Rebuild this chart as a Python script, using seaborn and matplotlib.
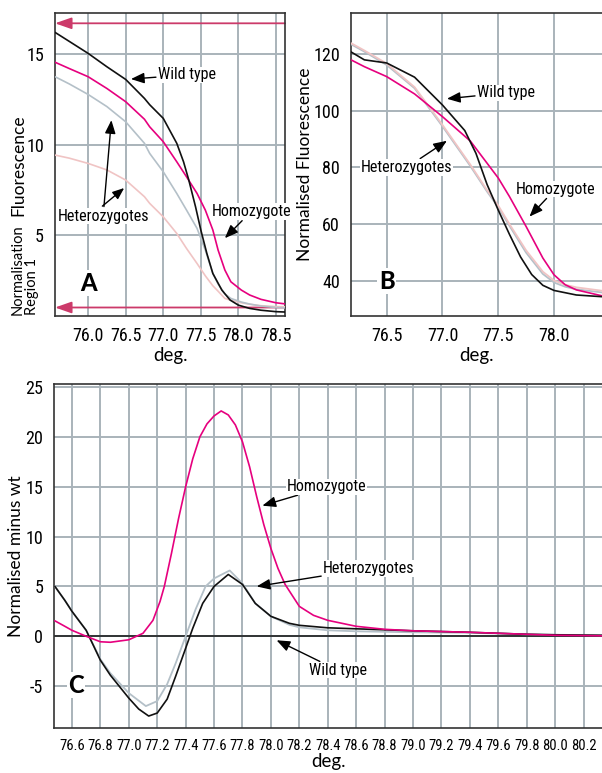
import matplotlib
matplotlib.use("Agg")
import matplotlib.pyplot as plt
import seaborn as sns

# ---- panel A: raw fluorescence ----
a_deg = [75.56, 75.75, 76.0, 76.25, 76.5, 76.75, 76.82, 77.0, 77.18, 77.27, 77.34, 77.43,
         77.5, 77.58, 77.66, 77.78, 77.89, 78.0, 78.15, 78.3, 78.5, 78.62]
a_wild = [16.2, 15.7, 15.04, 14.3, 13.6, 12.55, 12.2, 11.45, 10.07, 9.05, 8.04, 6.56,
          5.28, 3.99, 2.88, 1.96, 1.41, 1.13, 0.95, 0.85, 0.77, 0.75]
a_pdeg = [75.56, 75.75, 76.0, 76.25, 76.5, 76.75, 76.82, 77.0, 77.18, 77.31, 77.45, 77.56,
          77.66, 77.73, 77.82, 77.9, 78.04, 78.15, 78.3, 78.5, 78.62]
a_homo = [14.55, 14.2, 13.75, 13.1, 12.37, 11.4, 10.98, 10.16, 9.05, 8.22, 7.3, 6.38,
          5.28, 4.17, 3.07, 2.42, 1.96, 1.69, 1.45, 1.26, 1.2]
a_het1 = [13.75, 13.35, 12.77, 12.1, 11.26, 10.07, 9.51, 8.5, 7.3, 6.38, 5.37, 4.17,
          2.88, 2.3, 1.75, 1.5, 1.3, 1.19, 1.08, 1.0, 0.98]
a_het2 = [9.42, 9.25, 8.96, 8.6, 8.04, 7.12, 6.75, 6.01, 5.09, 4.26, 3.43, 2.75,
          2.2, 1.9, 1.5, 1.4, 1.26, 1.18, 1.1, 1.05, 1.04]
a_norm = [16.7, 1.0]   # normalisation region markers

# ---- panel B: normalised fluorescence ----
b_deg = [76.18, 76.3, 76.5, 76.75, 77.0, 77.1, 77.2, 77.3, 77.4, 77.5, 77.6, 77.7,
         77.8, 77.9, 78.0, 78.2, 78.43]
b_wild = [120.7, 117.9, 116.8, 111.8, 102.0, 97.5, 93.0, 85.0, 74.0, 65.0, 56.5, 48.5,
          42.3, 38.5, 36.7, 35.1, 34.5]
b_hdeg = [76.18, 76.3, 76.5, 76.75, 77.0, 77.25, 77.4, 77.5, 77.6, 77.75, 77.9, 78.0,
          78.1, 78.2, 78.43]
b_homo = [117.9, 115.5, 112.0, 105.9, 97.9, 89.3, 81.5, 76.3, 69.8, 59.2, 48.1, 42.2,
          38.7, 36.9, 34.8]
b_het1 = [123.4, 120.8, 116.1, 107.9, 94.5, 80.5, 71.5, 66.0, 59.5, 50.0, 42.5, 39.5,
          38.0, 37.1, 36.0]
b_het2 = [123.8, 121.2, 116.6, 108.3, 95.0, 81.0, 72.0, 66.6, 60.1, 50.8, 43.3, 40.2,
          38.7, 37.8, 36.6]

# ---- panel C: difference plot ----
c_deg = [76.48, 76.55, 76.6, 76.7, 76.8, 76.87, 77.0, 77.07, 77.14, 77.2, 77.27, 77.33,
         77.4, 77.45, 77.52, 77.6, 77.7, 77.8, 77.89, 78.0, 78.13, 78.2, 78.4, 78.6,
         78.8, 79.0, 79.4, 79.8, 80.0, 80.33]
c_wild = [5.0, 3.6, 2.5, 0.6, -2.4, -3.9, -6.2, -7.3, -8.0, -7.7, -6.3, -4.0,
          -1.2, 0.8, 3.3, 5.0, 6.2, 5.2, 3.3, 2.0, 1.3, 1.1, 0.85, 0.75,
          0.65, 0.55, 0.4, 0.2, 0.15, 0.1]
c_gdeg = [76.48, 76.55, 76.6, 76.7, 76.8, 76.87, 77.0, 77.12, 77.2, 77.27, 77.33, 77.4,
          77.47, 77.54, 77.6, 77.71, 77.8, 77.89, 78.0, 78.13, 78.2, 78.4, 78.6, 78.8,
          79.0, 79.4, 79.8, 80.0, 80.33]
c_het = [5.0, 3.6, 2.5, 0.6, -2.3, -3.7, -5.7, -7.0, -6.5, -4.8, -2.7, 0.0,
         2.7, 5.0, 5.8, 6.6, 5.3, 3.3, 2.0, 1.15, 0.9, 0.6, 0.5, 0.45,
         0.4, 0.35, 0.2, 0.15, 0.1]
c_hdeg = [76.48, 76.55, 76.6, 76.7, 76.8, 76.87, 77.0, 77.1, 77.17, 77.22, 77.25, 77.3,
          77.35, 77.4, 77.45, 77.5, 77.55, 77.6, 77.65, 77.7, 77.75, 77.8, 77.85, 77.9,
          77.95, 78.0, 78.05, 78.1, 78.2, 78.3, 78.4, 78.6, 78.8, 79.0, 79.4, 79.8,
          80.0, 80.33]
c_homo = [1.55, 1.0, 0.6, 0.0, -0.55, -0.6, -0.35, 0.3, 1.6, 3.5, 5.0, 8.3,
          11.8, 15.0, 17.8, 20.0, 21.3, 22.1, 22.6, 22.2, 21.2, 19.5, 17.0, 14.0,
          11.2, 8.8, 6.8, 5.2, 3.0, 2.1, 1.6, 1.0, 0.7, 0.55, 0.4, 0.2,
          0.1, 0.05]

BLACK = "#111111"
PINK = "#e6007e"
GREY = "#b4c0c8"
LPINK = "#f0c4c4"
GRID = "#a9b3ba"
RED = "#cc3a6a"

sns.set_style("white")
plt.rcParams["font.family"] = ["Lato", "DejaVu Sans"]
plt.rcParams.update({"text.color": "black", "axes.labelcolor": "black",
                     "xtick.labelcolor": "black", "ytick.labelcolor": "black"})
NARROW = ["Roboto Condensed", "DejaVu Sans"]

fig = plt.figure(figsize=(6.02, 7.73), dpi=100)
axA = fig.add_axes([0.0914, 0.5912, 0.382, 0.392])
axB = fig.add_axes([0.583, 0.5912, 0.417, 0.392])
axC = fig.add_axes([0.0905, 0.0582, 0.9095, 0.445])


def style(ax, xt, yt, tsize):
    ax.set_xticks(xt)
    ax.set_yticks(yt)
    ax.set_xticklabels(["%.1f" % v for v in xt], family=NARROW, fontsize=tsize)
    ax.set_yticklabels(["%g" % v for v in yt], family=NARROW, fontsize=13)
    ax.grid(True, color=GRID, linewidth=1.4, zorder=0)
    ax.set_axisbelow(True)
    ax.tick_params(direction="out", length=5, width=1.4, color=GRID, pad=3,
                   labelcolor="black")
    for s in ax.spines.values():
        s.set_color("#333333")
        s.set_linewidth(1.2)


def note(ax, text, xy, xytext, ha="left"):
    ax.annotate(text, xy=xy, xytext=xytext, family=NARROW, fontsize=11.5, ha=ha,
                va="center", zorder=6, color="black",
                bbox=dict(facecolor="white", edgecolor="none", pad=0.5),
                arrowprops=dict(arrowstyle="-|>,head_length=0.7,head_width=0.28",
                                color="black", lw=1.0, shrinkA=1, shrinkB=0))


def letter(ax, text, x, y):
    ax.text(x, y, text, fontsize=17, fontweight="black", ha="center", va="center",
            color="black", zorder=6,
            bbox=dict(facecolor="white", edgecolor="none", pad=1))


# ---- A ----
sns.lineplot(x=a_pdeg, y=a_het2, ax=axA, color=LPINK, lw=1.2, zorder=3)
sns.lineplot(x=a_pdeg, y=a_het1, ax=axA, color=GREY, lw=1.2, zorder=3)
sns.lineplot(x=a_pdeg, y=a_homo, ax=axA, color=PINK, lw=1.2, zorder=4)
sns.lineplot(x=a_deg, y=a_wild, ax=axA, color=BLACK, lw=1.2, zorder=5)
axA.set_xlim(75.56, 78.62)
axA.set_ylim(0.53, 17.27)
style(axA, [76.0, 76.5, 77.0, 77.5, 78.0, 78.5], [5, 10, 15], 13)
for yv in a_norm:
    axA.annotate("", xy=(0.0, yv), xytext=(1.0, yv), xycoords=("axes fraction", "data"),
                 arrowprops=dict(arrowstyle="-|>,head_length=1.0,head_width=0.35",
                                 color=RED, lw=1.3, shrinkA=0, shrinkB=0), zorder=2)
axA.set_xlabel("deg.", fontsize=13.5, labelpad=1)
axA.set_ylabel("")
fig.text(0.031, 0.786, "Fluorescence", rotation=90, fontsize=12.5, ha="center", va="center")
fig.text(0.030, 0.5925, "Normalisation", rotation=90, fontsize=10.5, ha="center", va="bottom")
fig.text(0.053, 0.5925, "Region 1", rotation=90, fontsize=10.5, ha="center", va="bottom")
note(axA, "Wild type", (76.57, 13.62), (76.93, 13.85))
note(axA, "Heterozygotes", (76.31, 11.35), (76.2, 6.05), ha="center")
axA.annotate("", xy=(76.48, 7.6), xytext=(76.19, 6.6),
             arrowprops=dict(arrowstyle="-|>,head_length=0.7,head_width=0.28",
                             color="black", lw=1.0, shrinkA=0, shrinkB=0), zorder=6)
note(axA, "Homozygote", (77.82, 4.83), (78.17, 6.3), ha="center")
letter(axA, "A", 76.0, 2.35)

# ---- B ----
sns.lineplot(x=b_hdeg, y=b_het1, ax=axB, color=GREY, lw=1.3, zorder=3)
sns.lineplot(x=b_hdeg, y=b_het2, ax=axB, color=LPINK, lw=1.3, zorder=3)
sns.lineplot(x=b_hdeg, y=b_homo, ax=axB, color=PINK, lw=1.2, zorder=4)
sns.lineplot(x=b_deg, y=b_wild, ax=axB, color=BLACK, lw=1.2, zorder=5)
axB.set_xlim(76.18, 78.43)
axB.set_ylim(27.7, 134.4)
style(axB, [76.5, 77.0, 77.5, 78.0], [40, 60, 80, 100, 120], 13)
axB.spines["right"].set_visible(False)
axB.set_xlabel("deg.", fontsize=13.5, labelpad=1)
axB.set_ylabel("Normalised Fluorescence", fontsize=12.5, labelpad=0)
note(axB, "Wild type", (77.04, 104.2), (77.31, 106.3))
note(axB, "Heterozygotes", (77.04, 89.4), (76.68, 80.0), ha="center")
note(axB, "Homozygote", (77.78, 62.7), (78.01, 72.3), ha="center")
letter(axB, "B", 76.5, 40)

# ---- C ----
sns.lineplot(x=c_gdeg, y=c_het, ax=axC, color=GREY, lw=1.3, zorder=3)
sns.lineplot(x=c_deg, y=c_wild, ax=axC, color=BLACK, lw=1.2, zorder=4)
sns.lineplot(x=c_hdeg, y=c_homo, ax=axC, color=PINK, lw=1.2, zorder=4)
axC.set_xlim(76.477, 80.33)
axC.set_ylim(-9.2, 25.3)
c_ticks = [round(76.6 + 0.2 * i, 1) for i in range(19)]
style(axC, c_ticks, [-5, 0, 5, 10, 15, 20, 25], 10.5)
axC.axhline(0, color=BLACK, lw=1.1, zorder=2)
axC.spines["right"].set_visible(False)
axC.set_xlabel("deg.", fontsize=13.5, labelpad=0)
axC.set_ylabel("Normalised minus wt", fontsize=12.5, labelpad=1)
note(axC, "Homozygote", (77.94, 13.1), (78.39, 15.0), ha="center")
note(axC, "Heterozygotes", (77.90, 5.0), (78.69, 6.8), ha="center")
note(axC, "Wild type", (78.04, -0.4), (78.47, -3.4), ha="center")
letter(axC, "C", 76.63, -4.9)

fig.savefig("out.png", dpi=100)
